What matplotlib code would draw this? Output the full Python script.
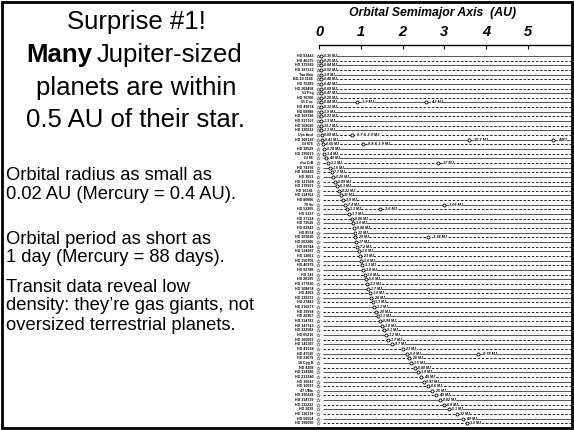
import matplotlib
matplotlib.use("Agg")
import matplotlib.pyplot as plt
from matplotlib.patches import Rectangle

plt.rcParams['font.family'] = ['Liberation Sans', 'DejaVu Sans']

# ---------------- data ----------------
star_names = [
    "HD 83443", "HD 46375", "HD 179949", "HD 187123", "Tau Boo", "BD-10 3166",
    "HD 75289", "HD 209458", "51 Peg", "HD 76700", "55 Cnc", "HD 49674",
    "HD 68988", "HD 168746", "HD 217107", "HD 162020", "HD 130322", "Ups And",
    "HD 108147", "Gl 876", "HD 38529", "HD 195019", "Gl 86", "rho CrB",
    "HD 74156", "HD 168443", "HD 3651", "HD 121504", "HD 178911", "HD 16141",
    "HD 114762", "HD 80606", "70 Vir", "HD 52265", "HD 1237", "HD 37124",
    "HD 73526", "HD 82943", "HD 8574", "HD 169830", "HD 202206", "HD 89744",
    "HD 134987", "HD 12661", "HD 150706", "HD 40979", "HD 92788", "HD 142",
    "HD 28185", "HD 177830", "HD 108874", "HD 4203", "HD 128311", "HD 27442",
    "HD 210277", "HD 19994", "HD 20367", "HD 114783", "HD 147513", "HD 222582",
    "HD 65216", "HD 160691", "HD 141937", "HD 41004", "HD 47536", "HD 23079",
    "16 Cyg B", "HD 4208", "HD 114386", "HD 213240", "HD 10647", "HD 10697",
    "47 UMa", "HD 190228", "HD 114729", "HD 111232", "HD 2039", "HD 136118",
    "HD 50554", "HD 196050",
]
semimajor_au = [
    0.038, 0.039, 0.040, 0.041, 0.042, 0.043, 0.045, 0.046, 0.046, 0.047,
    0.049, 0.050, 0.051, 0.052, 0.055, 0.057, 0.059, 0.060, 0.070, 0.090,
    0.11, 0.13, 0.16, 0.21, 0.26, 0.30, 0.33, 0.38, 0.43, 0.47,
    0.52, 0.57, 0.62, 0.66, 0.72, 0.78, 0.81, 0.83, 0.85, 0.87,
    0.89, 0.92, 0.95, 0.98, 1.00, 1.03, 1.06, 1.09, 1.12, 1.15,
    1.18, 1.21, 1.24, 1.28, 1.32, 1.36, 1.40, 1.45, 1.50, 1.55,
    1.60, 1.66, 1.75, 2.00, 2.10, 2.15, 2.20, 2.30, 2.38, 2.45,
    2.50, 2.60, 2.70, 2.80, 2.90, 3.00, 3.10, 3.30, 3.45, 3.55,
]
masses_mj = [
    "0.35", "0.25", "0.84", "0.52", "3.9", "0.48", "0.42", "0.69", "0.47", "0.20",
    "0.84", "0.12", "1.9", "0.23", "1.3", "13.7", "1.1", "0.69", "0.41", "0.56",
    "0.78", "3.4", "4.0", "1.1", "1.6", "7.7", "0.20", "0.89", "6.3", "0.22",
    "11", "3.9", "7.4", "1.1", "3.3", "0.86", "3.0", "0.88", "2.2", "2.9",
    "17", "7.2", "1.6", "2.3", "1.0", "3.3", "3.8", "1.0", "5.6", "1.3",
    "1.7", "1.6", "2.6", "1.3", "1.2", "2.0", "1.1", "0.99", "1.0", "5.1",
    "1.2", "1.7", "9.7", "2.3", "5.0", "2.6", "1.5", "0.80", "1.0", "4.5",
    "0.91", "6.6", "2.5", "4.9", "0.82", "6.8", "5.1", "12", "4.9", "3.0",
]
# extra planets in multi-planet systems: (row, a, label)
extra_rows = [10, 10, 17, 18, 18, 19, 23, 32, 33, 39, 64]
extra_a = [0.90, 2.55, 0.80, 3.60, 5.60, 1.05, 2.85, 3.00, 1.45, 2.60, 3.80]
extra_labels = ["1.9", "4.2", "0.7 & 2.0", "10.2", "4", "0.8 & 1.9", "17",
                "1.05", "1.6", "1.34", "0.78"]

tick_values = [0, 1, 2, 3, 4, 5]

left_big = ["Surprise #1!", None, "planets are within", "0.5 AU of their star."]
left_small = ["Orbital radius as small as", "0.02 AU (Mercury = 0.4 AU).",
              "Orbital period as short as", "1 day (Mercury = 88 days).",
              "Transit data reveal low", "density: they\u2019re gas giants, not",
              "oversized terrestrial planets."]

# ---------------- figure ----------------
W, H = 574, 430
fig = plt.figure(figsize=(W / 100, H / 100), dpi=100)

def fx(px):
    return px / W

def fy(py):
    return 1 - py / H

# frame
fig.patches.append(Rectangle((fx(2), fy(428)), fx(570), (426) / H,
                             transform=fig.transFigure, fill=False,
                             edgecolor='black', linewidth=2))

# left text
big_y = [22, 55, 88, 120]
for txt, yy in zip(left_big, big_y):
    if txt is None:
        continue
    fig.text(fx(136), fy(yy), txt, ha='center', va='center', fontsize=18.5)
t1 = fig.text(fx(26), fy(55), "Many", ha='left', va='center', fontsize=18.5,
              fontweight='bold')
fig.canvas.draw()
bb = t1.get_window_extent()
fig.text(bb.x1 / W + fx(5), fy(55), "Jupiter-sized", ha='left', va='center',
         fontsize=18.5)

small_y = [175, 195, 239, 258, 287, 306, 325]
for txt, yy in zip(left_small, small_y):
    fig.text(fx(6), fy(yy), txt, ha='left', va='center', fontsize=13.2)

# chart axes
x0_px, x1_px = 319, 572
px_per_au = 41.8
row0_px, row_h = 56, 4.65
top_px, bot_px = 45, 425
ax = fig.add_axes([fx(x0_px), fy(bot_px), fx(x1_px - x0_px), (bot_px - top_px) / H])
ax.set_xlim(0, (x1_px - x0_px) / px_per_au)
ax.set_ylim((bot_px - row0_px) / row_h, -(row0_px - top_px) / row_h)
for s in ['left', 'right', 'bottom']:
    ax.spines[s].set_visible(False)
ax.spines['top'].set_linewidth(1.0)
ax.xaxis.tick_top()
ax.xaxis.set_label_position('top')
ax.set_xticks(tick_values)
ax.set_xticklabels([str(t) for t in tick_values], fontsize=10.5,
                   fontweight='bold', fontstyle='italic')
ax.tick_params(axis='x', direction='in', length=3, width=0.8, pad=4)
ax.set_yticks([])
ax.set_xlabel("Orbital Semimajor Axis  (AU)", fontsize=8.8, fontweight='bold',
              fontstyle='italic', labelpad=7)
ax.xaxis.label.set_x(0.45)
ax.patch.set_alpha(0)

xmax = (x1_px - x0_px) / px_per_au
for i, name in enumerate(star_names):
    if i % 2 == 0:
        ax.plot([0.1, xmax], [i, i], color='#555555', lw=0.7, ls='-',
                solid_capstyle='butt')
    else:
        ax.plot([0.1, xmax], [i, i], color='black', lw=0.6, ls=(0, (3, 2)))
    ax.text(-0.14, i, name, ha='right', va='center', fontsize=2.6,
            fontweight='bold', clip_on=False)
    ax.plot([-0.02], [i], marker='*', ms=3, mfc='white', mec='#444444',
            mew=0.3, clip_on=False)

ax.plot(semimajor_au, range(len(semimajor_au)), ls='none', marker='o', ms=2.2,
        mfc='white', mec='black', mew=0.6, zorder=3)
for i, (a, m) in enumerate(zip(semimajor_au, masses_mj)):
    ax.text(a + 0.07, i, m + " MJ", ha='left', va='center', fontsize=2.6,
            fontstyle='italic', fontweight='bold', zorder=4,
            bbox=dict(boxstyle='square,pad=0.0', fc='white', ec='none'))

ax.plot(extra_a, extra_rows, ls='none', marker='o', ms=2.2, mfc='white',
        mec='black', mew=0.6, zorder=3, clip_on=False)
for r, a, lab in zip(extra_rows, extra_a, extra_labels):
    ax.text(a + 0.12, r, lab + " MJ", ha='left', va='center', fontsize=2.8,
            fontstyle='italic', fontweight='bold', zorder=4, clip_on=True,
            bbox=dict(boxstyle='square,pad=0.0', fc='white', ec='none'))

fig.savefig("out.png", dpi=100)
